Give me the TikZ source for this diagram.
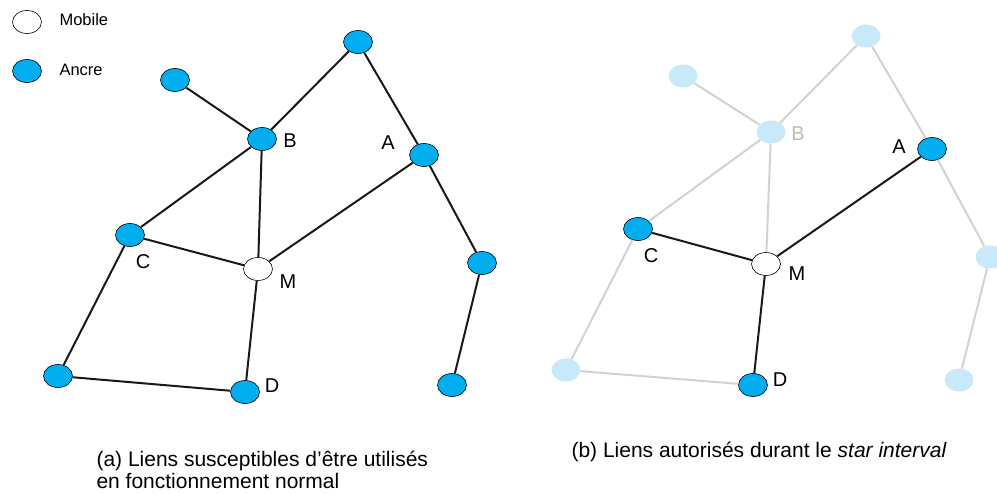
\documentclass[tikz,border=0pt]{standalone}
\usepackage{fontspec}
\setmainfont{Liberation Sans}
\usetikzlibrary{shapes.geometric}
\definecolor{ancre}{HTML}{00AEEF}
\definecolor{pale}{HTML}{C8E9F9}
\definecolor{grisl}{HTML}{D2D2D2}
\begin{document}
\begin{tikzpicture}[x=1pt, y=-1pt,
  anc/.style={ellipse, draw=black, semithick, fill=ancre, minimum width=29pt, minimum height=23pt, inner sep=0pt},
  mob/.style={ellipse, draw=black, semithick, fill=white, minimum width=29pt, minimum height=23pt, inner sep=0pt},
  pal/.style={ellipse, fill=pale, minimum width=29pt, minimum height=23pt, inner sep=0pt},
  lien/.style={line width=2pt, black!90},
  gris/.style={line width=2pt, grisl},
  lbl/.style={font=\fontsize{20}{24}\selectfont},
  leg/.style={font=\fontsize{16.5}{19}\selectfont, anchor=west}]
\useasboundingbox (0,0) rectangle (997,494);
% legende
\node[mob] (lmob) at (27,22) {};
\node[leg] (tmob) at (56,20) {Mobile};
\node[anc] (lanc) at (27,71) {};
\node[leg] (tanc) at (56,70) {Ancre};
% (a) fonctionnement normal
\node[anc] (aH) at (358,42) {};
\node[anc] (aG) at (175,80) {};
\node[anc] (aB) at (262,139) {};
\node[anc] (aA) at (424,155) {};
\node[anc] (aC) at (130,235) {};
\node[mob] (aM) at (258,269) {};
\node[anc] (aE) at (482,263) {};
\node[anc] (aF) at (58,376) {};
\node[anc] (aD) at (245,392) {};
\node[anc] (aK) at (452,385) {};
\node[lbl] (laB) at (290,141) {B};
\node[lbl] (laA) at (388,143) {A};
\node[lbl] (laC) at (143,262) {C};
\node[lbl] (laM) at (288,282) {M};
\node[lbl] (laD) at (272,386) {D};
\draw[lien] (aG) -- (aB);
\draw[lien] (aH) -- (aB);
\draw[lien] (aH) -- (aA);
\draw[lien] (aB) -- (aC);
\draw[lien] (aB) -- (aM);
\draw[lien] (aA) -- (aM);
\draw[lien] (aC) -- (aM);
\draw[lien] (aA) -- (aE);
\draw[lien] (aE) -- (aK);
\draw[lien] (aC) -- (aF);
\draw[lien] (aF) -- (aD);
\draw[lien] (aM) -- (aD);
% (b) star interval
\node[pal] (bH) at (866,36) {};
\node[pal] (bG) at (683,76) {};
\node[pal] (bB) at (771,132) {};
\node[anc] (bA) at (932,149) {};
\node[anc] (bC) at (638,229) {};
\node[mob] (bM) at (766,264) {};
\node[pal] (bE) at (990,257) {};
\node[pal] (bF) at (566,370) {};
\node[anc] (bD) at (753,385) {};
\node[pal] (bK) at (959,380) {};
\node[lbl, text=grisl!90!black] (lbB) at (798,134) {B};
\node[lbl] (lbA) at (899,147) {A};
\node[lbl] (lbC) at (651,256) {C};
\node[lbl] (lbM) at (797,274) {M};
\node[lbl] (lbD) at (780,380) {D};
\draw[gris] (bG) -- (bB);
\draw[gris] (bH) -- (bB);
\draw[gris] (bH) -- (bA);
\draw[gris] (bB) -- (bC);
\draw[gris] (bB) -- (bM);
\draw[gris] (bA) -- (bE);
\draw[gris] (bE) -- (bK);
\draw[gris] (bC) -- (bF);
\draw[gris] (bF) -- (bD);
\draw[lien] (bA) -- (bM);
\draw[lien] (bC) -- (bM);
\draw[lien] (bM) -- (bD);
% legendes
\node[anchor=west, align=left, font=\fontsize{21}{22}\selectfont] (capa) at (93,470)
  {(a) Liens susceptibles d’être utilisés\\en fonctionnement normal};
\node[anchor=west, font=\fontsize{21}{24}\selectfont] (capb) at (568,452)
  {(b) Liens autorisés durant le \textit{star interval}};
\end{tikzpicture}
\end{document}
